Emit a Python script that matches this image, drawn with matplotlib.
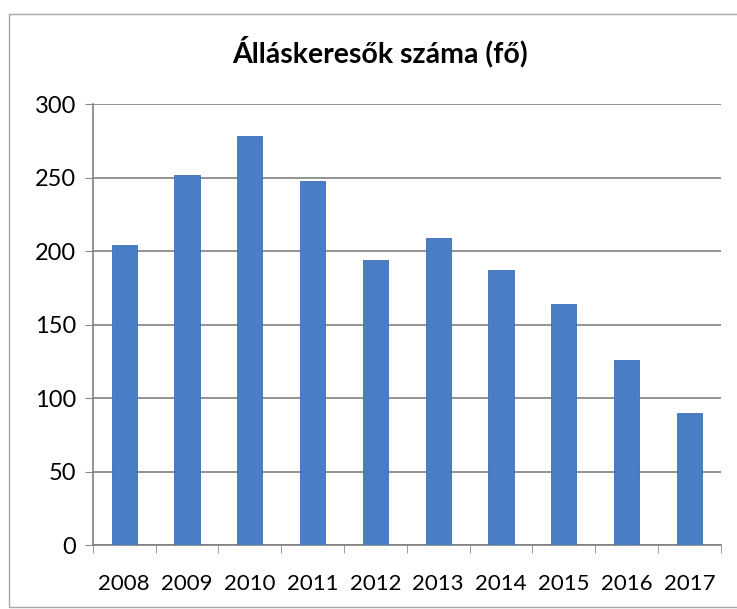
import matplotlib.pyplot as plt
from matplotlib.patches import Rectangle

years = ['2008', '2009', '2010', '2011', '2012', '2013', '2014', '2015', '2016', '2017']
jobseekers = [204, 252, 278, 248, 194, 209, 187, 164, 126, 90]
y_ticks = [0, 50, 100, 150, 200, 250, 300]

plt.rcParams['font.family'] = ['Lato', 'DejaVu Sans']

fig = plt.figure(figsize=(7.37, 6.09), dpi=100)
# outer chart frame (right edge runs off the picture)
fig.patches.append(Rectangle((0.012, 0.004), 1.0, 0.973, transform=fig.transFigure,
                             fill=False, edgecolor='#a8a8a8', linewidth=1.0))

ax = fig.add_axes([0.126, 0.105, 0.852, 0.724])
x = range(len(years))
ax.bar(x, jobseekers, width=0.4, color='#4a7ec4', edgecolor='#3d6fb5', linewidth=0.6, zorder=3)

ax.set_xlim(-0.5, len(years) - 0.5)
ax.set_ylim(0, 300)
ax.set_yticks(y_ticks)
ax.set_xticks(list(x))
ax.set_xticklabels(years)
ax.set_xticks([i - 0.5 for i in range(len(years) + 1)], minor=True)
ax.tick_params(axis='x', which='major', length=0, pad=21, labelsize=16)
ax.tick_params(axis='x', which='minor', length=6, color='#888888', direction='out')
ax.tick_params(axis='y', length=6, color='#888888', labelsize=17, pad=6)

ax.grid(axis='y', color='#808080', linewidth=1.2, zorder=0)
ax.set_axisbelow(True)
for side in ['top', 'right']:
    ax.spines[side].set_visible(False)
for side in ['left', 'bottom']:
    ax.spines[side].set_color('#808080')
    ax.spines[side].set_linewidth(1.2)

fig.text(0.516, 0.915, 'Álláskeresők száma (fő)', ha='center', va='center',
         fontsize=20.5, fontweight='bold')

plt.savefig('out.png', dpi=100)
